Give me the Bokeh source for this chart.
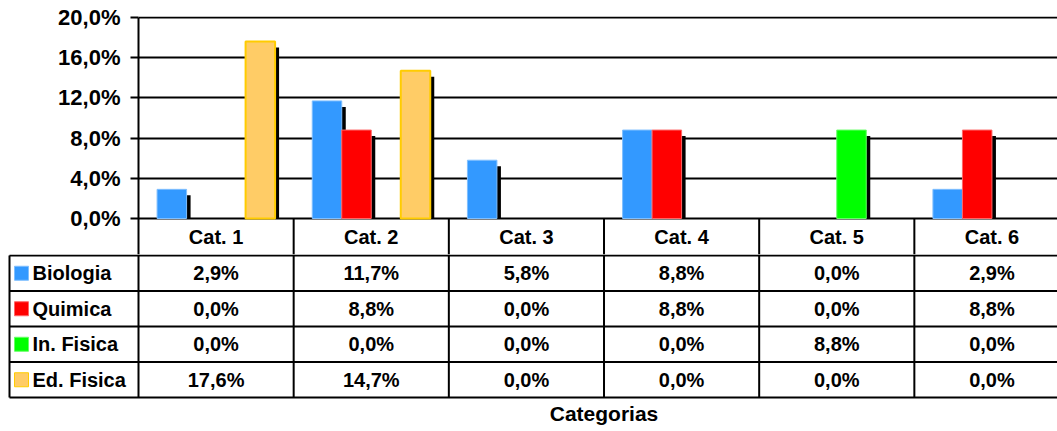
from bokeh.plotting import figure
from bokeh.models import Range1d, FixedTicker, ColumnDataSource
from bokeh.core.properties import value
from bokeh.embed import file_html
from bokeh.resources import INLINE

# ---------------- data ----------------
categories = ["Cat. 1", "Cat. 2", "Cat. 3", "Cat. 4", "Cat. 5", "Cat. 6"]
series_names = ["Biologia", "Quimica", "In. Fisica", "Ed. Fisica"]
biologia = [2.9, 11.7, 5.8, 8.8, 0.0, 2.9]
quimica = [0.0, 8.8, 0.0, 8.8, 0.0, 8.8]
in_fisica = [0.0, 0.0, 0.0, 0.0, 8.8, 0.0]
ed_fisica = [17.6, 14.7, 0.0, 0.0, 0.0, 0.0]
y_ticks = [0, 4, 8, 12, 16, 20]
axis_title = "Categorias"

series_values = [biologia, quimica, in_fisica, ed_fisica]
fills = ["#3399FF", "#FF0000", "#00FF00", "#FFCC66"]
edges = ["#7FBFFF", "#FF6666", "#66FF66", "#FFCC00"]
edge_w = [1, 1, 1, 2]

FONT = value("Liberation Sans")
PX_X = 155.17      # pixels per category
PX_Y = 10.05       # pixels per percent
ROW = 35.5         # pixels per table row

def fmt(v):
    return f"{v:.1f}%".replace(".", ",")

# ---------------- top: bar chart + header row ----------------
W = 1057
H = 431
LEFT = 138
top_h = 254
frame_top_pad = 16
y_end = 20 + 1 / PX_Y
y_start = y_end - (top_h - frame_top_pad) / PX_Y
x_end = (W - LEFT) / PX_X

p1 = figure(width=W, height=top_h, output_backend="svg", toolbar_location=None,
            x_range=Range1d(0, x_end), y_range=Range1d(y_start, y_end),
            min_border_left=LEFT, min_border_right=0, min_border_top=frame_top_pad,
            min_border_bottom=0, x_axis_type=None)
p1.outline_line_color = None
p1.background_fill_color = "white"
p1.border_fill_color = "white"
p1.xgrid.visible = False

ya = p1.yaxis[0]
ya.ticker = FixedTicker(ticks=y_ticks)
ya.major_label_overrides = {t: fmt(t) for t in y_ticks}
ya.major_label_text_font = "Liberation Sans"
ya.major_label_text_font_style = "bold"
ya.major_label_text_font_size = "22px"
ya.major_label_text_color = "black"
ya.axis_line_width = 2
ya.axis_line_color = "black"
ya.major_tick_line_width = 2
ya.major_tick_out = 8
ya.major_tick_in = 0
ya.minor_tick_line_color = None
ya.major_label_standoff = 10
ya.bounds = (y_start, 20)

p1.ygrid.ticker = FixedTicker(ticks=y_ticks)
p1.ygrid.grid_line_color = "black"
p1.ygrid.grid_line_width = 2

# header-row column dividers and category names
n_cat = len(categories)
p1.segment(x0=list(range(1, n_cat)), y0=[0] * (n_cat - 1), x1=list(range(1, n_cat)),
           y1=[y_start] * (n_cat - 1), line_color="black", line_width=2)
hdr_y = -18.5 / PX_Y
p1.text(x=[i + 0.5 for i in range(n_cat)], y=[hdr_y] * n_cat,
        text=categories, text_font=FONT, text_font_style="bold",
        text_font_size="20px", text_align="center", text_baseline="middle",
        text_color="black")

bw = 29.5 / PX_X
offsets = [-1.5, -0.5, 0.5, 1.5]
sh_dx = 4 / PX_X
sh_dy = 6 / PX_Y
for k, vals in enumerate(series_values):
    xs = [i + 0.5 + offsets[k] * bw for i, v in enumerate(vals) if v > 0]
    tops = [v for v in vals if v > 0]
    src = ColumnDataSource(dict(x=xs, top=tops,
                                sx=[x + sh_dx for x in xs],
                                stop=[max(t - sh_dy, 0) for t in tops]))
    p1.vbar(x="sx", top="stop", bottom=0, width=bw, source=src,
            fill_color="black", line_color=None)
    p1.vbar(x="x", top="top", bottom=0, width=bw, source=src,
            fill_color=fills[k], line_color=edges[k], line_width=edge_w[k])

# ---------------- bottom: data table rows ----------------
bot_h = H - top_h
r_top = -1 / ROW
r_bot = r_top + bot_h / ROW
x_left = -LEFT / PX_X
p2 = figure(width=W, height=bot_h, output_backend="svg", toolbar_location=None,
            x_range=Range1d(x_left, x_end), y_range=Range1d(r_bot, r_top),
            min_border_left=0, min_border_right=0, min_border_top=0, min_border_bottom=0,
            x_axis_type=None, y_axis_type=None)
p2.outline_line_color = None
p2.background_fill_color = "white"
p2.border_fill_color = "white"
p2.xgrid.visible = False
p2.ygrid.visible = False

lx = x_left + 9 / PX_X
n_rows = len(series_names)
p2.segment(x0=[lx] * (n_rows + 1), y0=list(range(0, n_rows + 1)),
           x1=[7] * (n_rows + 1), y1=list(range(0, n_rows + 1)),
           line_color="black", line_width=2)
p2.segment(x0=[lx], y0=[0], x1=[lx], y1=[n_rows], line_color="black", line_width=2)
p2.segment(x0=list(range(0, n_cat)), y0=[r_top] * n_cat, x1=list(range(0, n_cat)),
           y1=[n_rows] * n_cat, line_color="black", line_width=2)

for k, vals in enumerate(series_values):
    p2.text(x=[i + 0.5 for i in range(len(vals))], y=[k + 0.5] * len(vals),
            text=[fmt(v) for v in vals], text_font=FONT, text_font_style="bold",
            text_font_size="20px", text_align="center", text_baseline="middle",
            text_color="black")
key_x = (21 - LEFT) / PX_X
name_x = (32 - LEFT) / PX_X
p2.scatter(x=[key_x] * n_rows, y=[k + 0.5 for k in range(n_rows)], marker="square",
           size=14, fill_color=fills, line_color=edges, line_width=1)
p2.text(x=[name_x] * n_rows, y=[k + 0.5 for k in range(n_rows)], text=series_names,
        text_font=FONT, text_font_style="bold", text_font_size="20px",
        text_align="left", text_baseline="middle", text_color="black")
p2.text(x=[3], y=[(413 - 255) / ROW], text=[axis_title], text_font=FONT,
        text_font_style="bold", text_font_size="21px", text_align="center",
        text_baseline="middle", text_color="black")

open("out.html", "w").write(file_html([p1, p2], INLINE))
